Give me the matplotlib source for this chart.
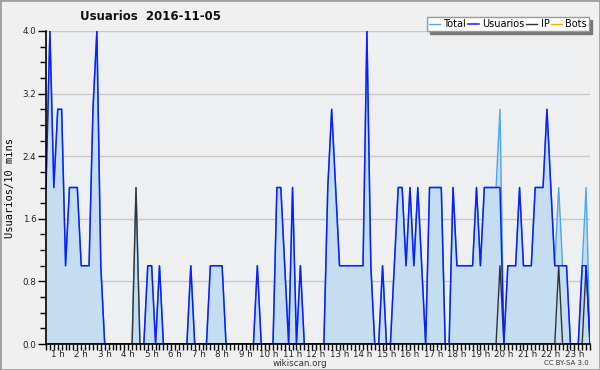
#!/usr/bin/env python3
"""Usuarios 2016-11-05 -- wikiscan style activity chart (10 min buckets)."""

import matplotlib
matplotlib.use("Agg")
import matplotlib.pyplot as plt
from matplotlib.patches import Rectangle
import numpy as np

# ---------------------------------------------------------------------------
# Data: one value per 10 minute bucket (140 buckets shown)
# ---------------------------------------------------------------------------
usuarios = [
    2, 4, 2, 3, 3, 1, 2, 2, 2, 1, 1, 1, 3, 4, 1, 0, 0, 0, 0, 0,   # 0-19
    0, 0, 0, 0, 0, 0, 1, 1, 0, 1, 0, 0, 0, 0, 0, 0, 0, 1, 0, 0,   # 20-39
    0, 0, 1, 1, 1, 1, 0, 0, 0, 0, 0, 0, 0, 0, 1, 0, 0, 0, 0, 2,   # 40-59
    2, 1, 0, 2, 0, 1, 0, 0, 0, 0, 0, 0, 2, 3, 2, 1, 1, 1, 1, 1,   # 60-79
    1, 1, 4, 1, 0, 0, 1, 0, 0, 1, 2, 2, 1, 2, 1, 2, 1, 0, 2, 2,   # 80-99
    2, 2, 0, 0, 2, 1, 1, 1, 1, 1, 2, 1, 2, 2, 2, 2, 2, 0, 1, 1,   # 100-119
    1, 2, 1, 1, 1, 2, 2, 2, 3, 2, 1, 1, 1, 1, 0, 0, 0, 1, 1, 0,   # 120-139
]
# IP edits: non-zero buckets only
ip_buckets = [23, 116, 131, 138]
ip_values = [2, 1, 1, 1]
bots = [0] * len(usuarios)

hour_labels = [f"{h} h" for h in range(1, 24)]
ylabel = "Usuarios/10 mins"
title = "Usuarios  2016-11-05"

# ---------------------------------------------------------------------------
n = len(usuarios)
x = np.arange(n)
ip = np.zeros(n)
ip[ip_buckets] = ip_values
total = np.array(usuarios) + ip

fig = plt.figure(figsize=(6.0, 3.7), dpi=100, facecolor="#f0f0f0")
ax = fig.add_axes([46 / 600, 1 - 344 / 370, 544 / 600, 313 / 370])
ax.set_facecolor("#eeeff1")

ax.fill_between(x, 0, total, color="#c5ddf0", lw=0, zorder=1)
ax.plot(x, bots, color="#ffa000", lw=1.0, zorder=2, label="Bots")
ax.plot(x, total, color="#4da6f0", lw=1.0, zorder=3, label="Total")
ax.plot(x, ip, color="#333333", lw=1.0, zorder=4, label="IP")
ax.plot(x, usuarios, color="#0a1eff", lw=1.1, zorder=5, label="Usuarios")

ax.set_xlim(0, n - 1)
ax.set_ylim(0, 4.0)

# y ticks: labelled every 0.8, minor every 0.2
ax.set_yticks(np.arange(0, 4.01, 0.8))
ax.set_yticklabels([f"{v:.1f}" for v in np.arange(0, 4.01, 0.8)])
ax.set_yticks(np.arange(0, 4.01, 0.2), minor=True)
ax.yaxis.grid(True, color="#c8c8c8", lw=1.0)
ax.set_axisbelow(True)

# x ticks: one per 10 min bucket, hour labels in the middle of the hour
ax.set_xticks(x, minor=True)
ax.set_xticks([6 * h - 3 for h in range(1, 24)])
ax.set_xticklabels(hour_labels)

ax.tick_params(axis="both", which="both", direction="out", color="black",
               labelsize=6.3, labelcolor="#222222", width=1.0)
ax.tick_params(axis="y", which="major", length=6, pad=1)
ax.tick_params(axis="y", which="minor", length=4)
ax.tick_params(axis="x", which="both", length=4, pad=0.5)

for side in ("top", "right"):
    ax.spines[side].set_visible(False)
for side in ("left", "bottom"):
    ax.spines[side].set_color("black")
    ax.spines[side].set_linewidth(1.2)
    ax.spines[side].set_zorder(6)

ax.set_ylabel(ylabel, fontsize=7.5, family="DejaVu Sans Mono", labelpad=5)
fig.text(151 / 600, 1 - 17 / 370, title, fontsize=8.5, fontweight="bold",
         ha="center", va="center", color="#111111")

# legend in the order of the reference
handles, labels = ax.get_legend_handles_labels()
order = [labels.index(k) for k in ("Total", "Usuarios", "IP", "Bots")]
leg = ax.legend([handles[i] for i in order], [labels[i] for i in order],
                ncol=4, loc="upper right", bbox_to_anchor=(589 / 600, 1 - 17 / 370),
                bbox_transform=fig.transFigure, borderaxespad=0,
                fontsize=7, handlelength=1.1, handletextpad=0.35,
                columnspacing=0.2, borderpad=0.2, fancybox=False,
                framealpha=1, edgecolor="#999999",
                shadow={"color": "#777777", "alpha": 1.0})
leg.get_frame().set_linewidth(1.0)
leg.set_zorder(10)

fig.text(300 / 600, 1 - 363 / 370, "wikiscan.org", fontsize=6.3,
         ha="center", va="center", color="#333333")
fig.text(589 / 600, 1 - 363 / 370, "CC BY-SA 3.0", fontsize=5,
         ha="right", va="center", color="#333333")

fig.patches.append(Rectangle((0, 0), 1, 1, transform=fig.transFigure,
                             fill=False, edgecolor="#a0a0a0", lw=2))

fig.savefig("out.png", dpi=100, facecolor=fig.get_facecolor())
